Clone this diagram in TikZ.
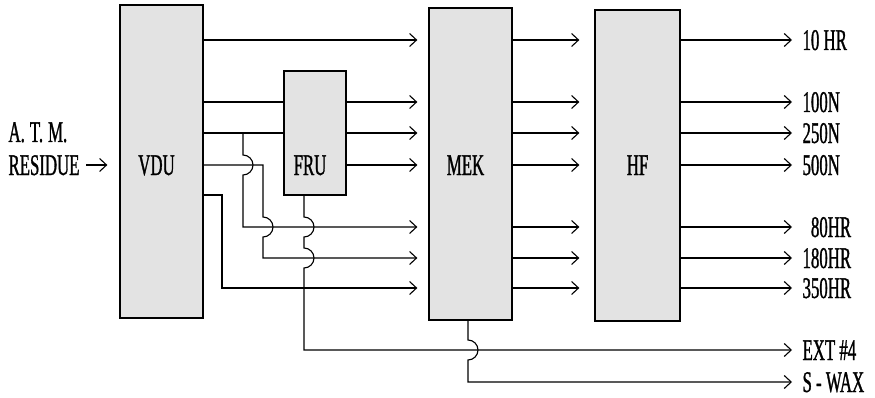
\documentclass[tikz,border=0pt]{standalone}
\usepackage{fontspec}
\newfontfamily\plantfont[FakeStretch=0.56, FakeBold=1]{Liberation Serif}
\usetikzlibrary{arrows.meta,positioning}

\begin{document}
\begin{tikzpicture}[x=1pt, y=1pt, line width=1.1pt,
    unit/.style = {draw, line width=1.3pt, fill=gray!22, inner sep=0pt},
    tag/.style = {font=\plantfont\fontsize{30}{34}\selectfont, inner sep=0pt,
                  text height=20pt, text depth=0pt},
    flow/.style = {-{Straight Barb[length=7pt, width=13pt]}}]
    \useasboundingbox (0,0) rectangle (875,397);

    % the four units
    \node[unit, minimum width=83pt, minimum height=313pt] (vdu) at (161.5,235.5) {};
    \node[unit, minimum width=62pt, minimum height=124pt] (fru) at (315,264) {};
    \node[unit, minimum width=83pt, minimum height=312pt] (mek) at (470.5,233) {};
    \node[unit, minimum width=85pt, minimum height=311pt] (hf) at (637.5,231.5) {};

    \node[tag] (vdutag) at ([xshift=-5pt]vdu.center |- 0,232) {VDU};
    \node[tag] (frutag) at ([xshift=-5pt]fru.center |- 0,232) {FRU};
    \node[tag] (mektag) at ([xshift=-5pt]mek.center |- 0,232) {MEK};
    \node[tag] (hftag) at (hf.center |- 0,232) {HF};

    % feed
    \node[tag, anchor=west] (atm) at (8,265) {A.\,T.\,M.};
    \node[tag, anchor=west] (res) at (8,232) {RESIDUE};
    \draw[flow, shorten >=12pt] (res.east) ++(6pt,0) -- (vdu.west |- res.east);

    % products
    \node[tag, anchor=west] (p10) at (802,357) {10 HR};
    \node[tag, anchor=west] (p100) at (802,295) {100N};
    \node[tag, anchor=west] (p250) at (802,264) {250N};
    \node[tag, anchor=west] (p500) at (802,232) {500N};
    \node[tag, anchor=west] (p80) at (802,170) {\phantom{1}80HR};
    \node[tag, anchor=west] (p180) at (802,139) {180HR};
    \node[tag, anchor=west] (p350) at (802,109) {350HR};
    \node[tag, anchor=west] (ext) at (802,47) {EXT \#4};
    \node[tag, anchor=west] (wax) at (802,15) {S - WAX};

    % VDU draws
    \draw[flow, shorten >=11pt] (vdu.east |- 0,357) -- (mek.west |- 0,357);
    \draw (vdu.east |- 0,295) -- (fru.west |- 0,295);
    \draw (vdu.east |- 0,264) -- (fru.west |- 0,264);

    \coordinate (j1) at (243,264);
    \coordinate (j2) at (263,232);
    \coordinate (j3) at (222,202);
    \coordinate (j4) at (304,202);

    \draw[flow, shorten >=11pt] (j1) -- (243,242) arc[start angle=90, end angle=-90, radius=10]
        -- (243,170) -- (mek.west |- 0,170);
    \draw[flow, shorten >=11pt] (vdu.east |- j2) -- (j2) -- (263,180)
        arc[start angle=90, end angle=-90, radius=10] -- (263,139) -- (mek.west |- 0,139);
    \draw[flow, shorten >=11pt] (vdu.east |- j3) -- (j3) -- (222,109) -- (mek.west |- 0,109);

    % FRU cuts
    \foreach \lev in {295,264,232}
        \draw[flow, shorten >=11pt] (fru.east |- 0,\lev) -- (mek.west |- 0,\lev);
    \draw[flow, shorten >=10pt] (j4) -- (304,180) arc[start angle=90, end angle=-90, radius=10]
        -- (304,149) arc[start angle=90, end angle=-90, radius=10]
        -- (304,47) -- (ext.west);

    % MEK to HF
    \foreach \lev in {357,295,264,232,170,139,109}
        \draw[flow, shorten >=15pt] (mek.east |- 0,\lev) -- (hf.west |- 0,\lev);
    \draw[flow, shorten >=10pt] ([xshift=-2.5pt]mek.south) -- (468,57)
        arc[start angle=90, end angle=-90, radius=10] -- (468,15) -- (wax.west);

    % HF products
    \foreach \p in {p10,p100,p250,p500,p80,p180,p350}
        \draw[flow, shorten >=10pt] (hf.east |- \p.west) -- (\p.west -| 802,0);
\end{tikzpicture}
\end{document}
